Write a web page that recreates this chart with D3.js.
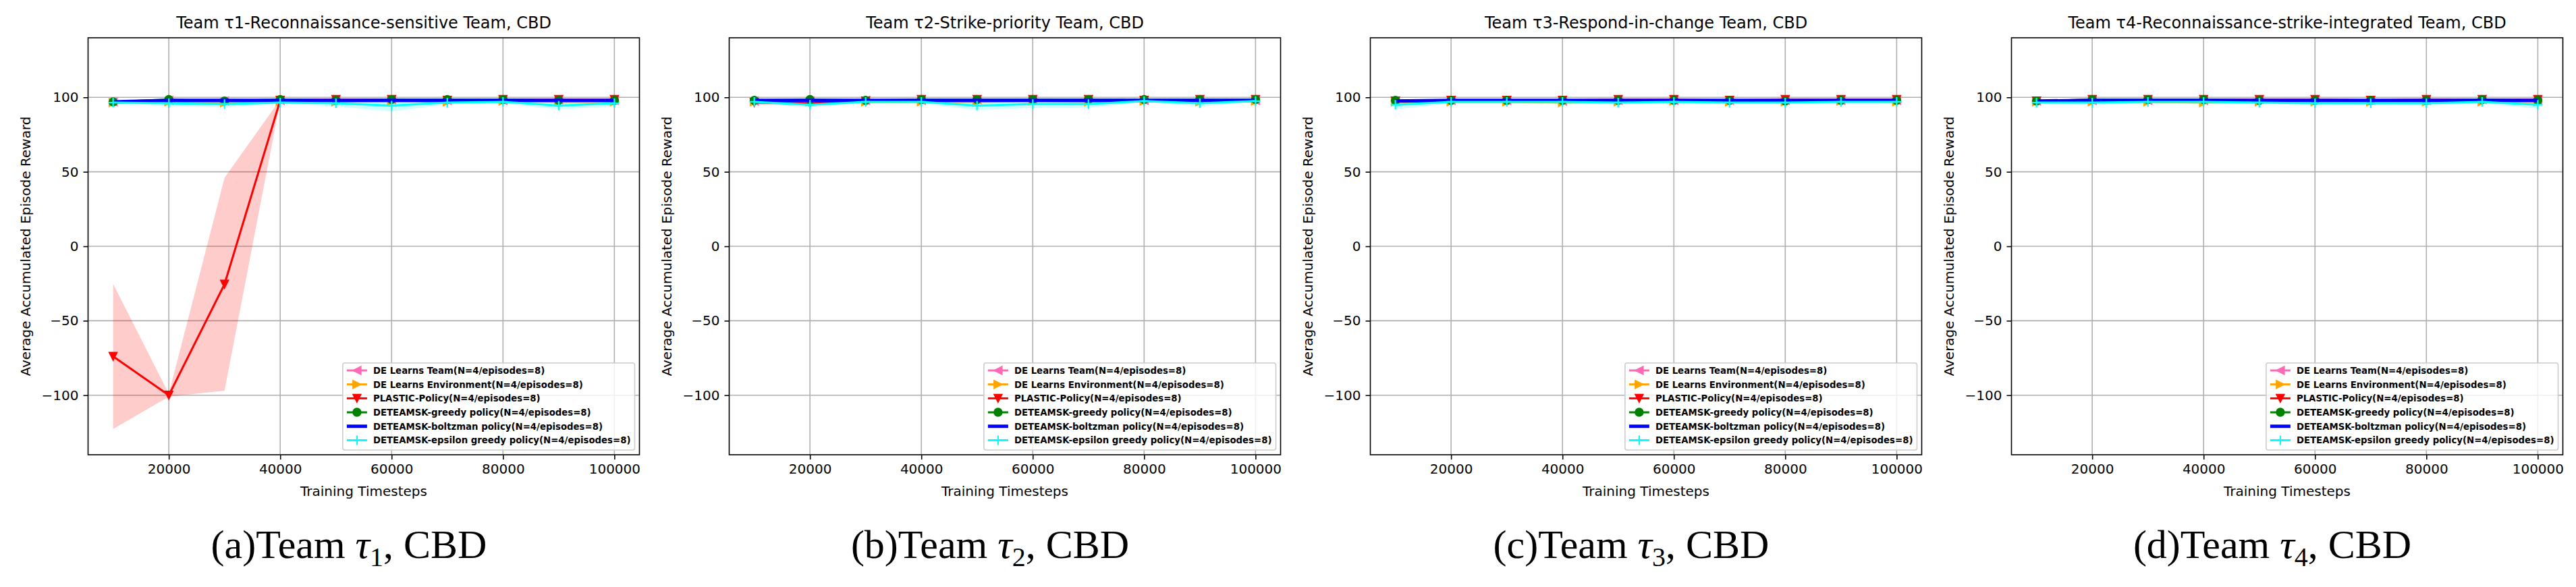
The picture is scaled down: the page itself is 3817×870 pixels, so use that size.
<!DOCTYPE html>
<html>
<head>
<meta charset="utf-8">
<script src="https://cdn.jsdelivr.net/npm/d3@7"></script>
<style>
  body { margin: 0; background: #fff; }
</style>
</head>
<body>
<svg id="fig" width="3817" height="870"></svg>
<script>
// x values and labels
const steps = [10000, 20000, 30000, 40000, 50000, 60000, 70000, 80000, 90000, 100000]
const xTicks = [20000, 40000, 60000, 80000, 100000]
const yTicks = [-100, -50, 0, 50, 100]

const seriesNames = [
  'DE Learns Team(N=4/episodes=8)',
  'DE Learns Environment(N=4/episodes=8)',
  'PLASTIC-Policy(N=4/episodes=8)',
  'DETEAMSK-greedy policy(N=4/episodes=8)',
  'DETEAMSK-boltzman policy(N=4/episodes=8)',
  'DETEAMSK-epsilon greedy policy(N=4/episodes=8)'
]
const seriesColors = ['#ff69b4', '#ffa500', '#ff0000', '#008000', '#0000ff', '#00ffff']
const seriesMarkers = ['<', '>', 'v', 'o', '', '+']
const seriesWidths = [3, 3, 3, 3, 5, 3]

const titles = [
  'Team \u03c41-Reconnaissance-sensitive Team, CBD',
  'Team \u03c42-Strike-priority Team, CBD',
  'Team \u03c43-Respond-in-change Team, CBD',
  'Team \u03c44-Reconnaissance-strike-integrated Team, CBD'
]
const captionLetters = ['a', 'b', 'c', 'd']
const captionIndex = ['1', '2', '3', '4']

// team 1 (rows follow seriesNames)
const t1Mean = [
  [97, 98, 97.5, 98, 98.5, 98.5, 98, 98, 98.5, 98],
  [96.5, 97, 96.5, 97, 97, 97.5, 97, 97.5, 97, 97],
  [-74, -100, -25.5, 98, 98.5, 98.5, 98, 98.5, 98.5, 98.5],
  [97, 98.5, 97.5, 98.5, 98, 98.5, 98.5, 98.5, 98, 98],
  [97, 98, 98, 98, 98, 98, 98, 98, 98, 98],
  [96.5, 96, 95.5, 96.5, 96, 94.5, 96.5, 97, 94.5, 96]
]
const t1Sd = [
  [0.8, 0.6, 0.8, 0.5, 0.5, 0.5, 0.6, 0.5, 0.5, 0.6],
  [0.8, 0.8, 0.8, 0.6, 0.8, 0.6, 0.8, 0.6, 0.8, 0.8],
  [48.7, 1, 71.5, 0.6, 0.5, 0.5, 0.6, 0.5, 0.5, 0.5],
  [0.8, 0.5, 0.6, 0.5, 0.5, 0.5, 0.5, 0.5, 0.5, 0.5],
  [0.6, 0.4, 0.4, 0.4, 0.4, 0.4, 0.4, 0.4, 0.4, 0.4],
  [1, 1.8, 2, 0.8, 2, 4, 1, 1, 2.5, 2]
]

// team 2
const t2Mean = [
  [97.5, 97.5, 98, 98, 98.5, 98.5, 98.5, 98, 98.5, 98],
  [97, 97, 97, 97, 97, 97.5, 97, 97.5, 97, 97.5],
  [96.5, 96, 97.5, 98.5, 98.5, 98.5, 98.5, 98, 98.5, 98.5],
  [98, 98.5, 98, 98.5, 98.5, 98.5, 98.5, 98.5, 98.5, 98.5],
  [98, 98, 98, 98, 98, 98, 98, 98, 98, 98],
  [97, 95, 97, 97, 94.5, 95.5, 95.5, 97.5, 96, 97.5]
]
const t2Sd = [
  [0.8, 0.6, 0.5, 0.5, 0.5, 0.5, 0.5, 0.6, 0.5, 0.5],
  [0.8, 0.8, 0.8, 0.8, 0.8, 0.6, 0.8, 0.6, 0.8, 0.6],
  [1.5, 1.2, 0.8, 0.5, 0.5, 0.5, 0.5, 0.6, 0.5, 0.5],
  [0.6, 0.5, 0.5, 0.5, 0.5, 0.5, 0.5, 0.5, 0.5, 0.5],
  [0.4, 0.4, 0.4, 0.4, 0.4, 0.4, 0.4, 0.4, 0.4, 0.4],
  [1, 1.5, 1, 1, 3, 2.5, 2.5, 0.6, 2, 0.6]
]

// team 3
const t3Mean = [
  [97.5, 98, 98, 97.5, 98, 98, 98, 98, 98, 98],
  [97, 97, 97, 96.5, 97, 97.5, 97, 97, 97.5, 97],
  [97.5, 98, 98, 98, 98.5, 98.5, 98, 98.5, 98.5, 98.5],
  [98, 98, 98, 98, 98, 98, 98, 97.5, 98, 98],
  [97.5, 98, 98, 98, 98, 98, 98, 98, 98, 98],
  [95, 97, 97, 97, 96.5, 97, 96.5, 96.5, 97, 97]
]
const t3Sd = [
  [0.8, 0.6, 0.6, 0.8, 0.6, 0.6, 0.6, 0.6, 0.6, 0.6],
  [0.8, 0.8, 0.8, 1, 0.8, 0.6, 0.8, 0.8, 0.6, 0.8],
  [0.8, 0.6, 0.6, 0.6, 0.5, 0.5, 0.6, 0.5, 0.5, 0.5],
  [0.6, 0.6, 0.6, 0.6, 0.6, 0.6, 0.6, 0.8, 0.6, 0.6],
  [0.4, 0.4, 0.4, 0.4, 0.4, 0.4, 0.4, 0.4, 0.4, 0.4],
  [3, 1, 1, 1, 1, 1, 0.6, 0.6, 1, 1]
]

// team 4
const t4Mean = [
  [97.5, 98, 98, 98, 98.5, 98.5, 98, 98, 98.5, 98],
  [97, 97, 97, 96.5, 97, 97, 97, 97, 97, 97],
  [97.5, 98.5, 98.5, 98.5, 98.5, 98.5, 98, 98.5, 98.5, 98.5],
  [97.5, 98.5, 98.5, 98.5, 98, 98, 98, 98, 98.5, 98],
  [97.5, 98, 98, 98, 98, 98, 98, 98, 98, 98],
  [96.5, 96.5, 97, 97, 96.5, 96, 96, 96, 97, 95]
]
const t4Sd = [
  [0.8, 0.6, 0.6, 0.6, 0.5, 0.5, 0.6, 0.6, 0.5, 0.6],
  [0.8, 0.8, 0.8, 1, 0.8, 0.8, 0.8, 0.8, 0.8, 0.8],
  [0.8, 0.5, 0.5, 0.5, 0.5, 0.5, 0.6, 0.5, 0.5, 0.5],
  [0.8, 0.5, 0.5, 0.5, 0.6, 0.6, 0.6, 0.6, 0.5, 0.6],
  [0.4, 0.4, 0.4, 0.4, 0.4, 0.4, 0.4, 0.4, 0.4, 0.4],
  [1, 1.5, 1, 1, 1, 1, 1, 1.5, 1, 2.5]
]

const teamMeans = [t1Mean, t2Mean, t3Mean, t4Mean]
const teamSds = [t1Sd, t2Sd, t3Sd, t4Sd]

const svg = d3.select('#fig')
svg.append('rect').attr('width', 3817).attr('height', 870).attr('fill', '#fff')

const panelW = 817
const plotTop = 56
const plotBottom = 674
const sans = 'DejaVu Sans, sans-serif'

const y = d3.scaleLinear().domain([-140, 140]).range([plotBottom, plotTop])

// marker paths, 12px like matplotlib at 2x
const markerPath = m => {
  if (m === 'v') return 'M-6,-6L6,-6L0,6Z'
  if (m === '<') return 'M6,-6L6,6L-6,0Z'
  if (m === '>') return 'M-6,-6L-6,6L6,0Z'
  if (m === 'o') return d3.symbol(d3.symbolCircle, Math.PI * 36)()
  if (m === '+') return 'M-7,0L7,0M0,-7L0,7'
  return null
}

const drawMarker = (g, m, color, cx, cy) => {
  const p = markerPath(m)
  if (!p) return
  const node = g.append('path')
    .attr('d', p)
    .attr('transform', `translate(${cx},${cy})`)
  if (m === '+') {
    node.attr('fill', 'none').attr('stroke', color).attr('stroke-width', 2.2)
  } else {
    node.attr('fill', color).attr('stroke', color).attr('stroke-width', 1.5)
  }
}

const drawPanel = (i) => {
  const left = 130.5 + i * 950
  const x = d3.scaleLinear().domain([5500, 104500]).range([left, left + panelW])
  const means = teamMeans[i]
  const sds = teamSds[i]
  const g = svg.append('g')

  // grid
  g.selectAll('.gx').data(xTicks).enter().append('line')
    .attr('x1', d => x(d)).attr('x2', d => x(d))
    .attr('y1', plotTop).attr('y2', plotBottom)
    .attr('stroke', '#b0b0b0').attr('stroke-width', 1.6)
  g.selectAll('.gy').data(yTicks).enter().append('line')
    .attr('x1', left).attr('x2', left + panelW)
    .attr('y1', d => y(d)).attr('y2', d => y(d))
    .attr('stroke', '#b0b0b0').attr('stroke-width', 1.6)

  const clip = 'clip' + i
  svg.append('clipPath').attr('id', clip).append('rect')
    .attr('x', left).attr('y', plotTop).attr('width', panelW).attr('height', plotBottom - plotTop)
  const plot = g.append('g').attr('clip-path', `url(#${clip})`)

  const area = d3.area()
    .x((d, k) => x(steps[k]))
    .y0(d => y(d[0] - d[1]))
    .y1(d => y(d[0] + d[1]))
  const line = d3.line().x((d, k) => x(steps[k])).y(d => y(d))

  means.forEach((row, s) => {
    const band = row.map((v, k) => [v, sds[s][k]])
    plot.append('path').attr('d', area(band))
      .attr('fill', seriesColors[s]).attr('fill-opacity', 0.2).attr('stroke', 'none')
  })
  means.forEach((row, s) => {
    plot.append('path').attr('d', line(row))
      .attr('fill', 'none').attr('stroke', seriesColors[s])
      .attr('stroke-width', seriesWidths[s]).attr('stroke-linejoin', 'round')
    row.forEach((v, k) => drawMarker(plot, seriesMarkers[s], seriesColors[s], x(steps[k]), y(v)))
  })

  // axes
  const xAxis = d3.axisBottom(x).tickValues(xTicks).tickFormat(d3.format('d')).tickSize(7).tickPadding(7)
  const yAxis = d3.axisLeft(y).tickValues(yTicks).tickSize(7).tickPadding(7)
  const ax = g.append('g').attr('transform', `translate(0,${plotBottom})`).call(xAxis)
  const ay = g.append('g').attr('transform', `translate(${left},0)`).call(yAxis)
  ;[ax, ay].forEach(a => {
    a.select('.domain').remove()
    a.selectAll('line').attr('stroke', '#000').attr('stroke-width', 1.6)
    a.selectAll('text').attr('font-family', sans).attr('font-size', 20).attr('fill', '#000')
  })
  g.append('rect').attr('x', left).attr('y', plotTop).attr('width', panelW).attr('height', plotBottom - plotTop)
    .attr('fill', 'none').attr('stroke', '#000').attr('stroke-width', 1.6)

  // title and labels
  g.append('text').attr('x', left + panelW / 2).attr('y', 41.5).attr('text-anchor', 'middle')
    .attr('font-family', sans).attr('font-size', 24).text(titles[i])
  g.append('text').attr('x', left + panelW / 2).attr('y', 735).attr('text-anchor', 'middle')
    .attr('font-family', sans).attr('font-size', 20).text('Training Timesteps')
  g.append('text').attr('transform', `translate(${left - 85.5},${(plotTop + plotBottom) / 2}) rotate(-90)`)
    .attr('text-anchor', 'middle').attr('font-family', sans).attr('font-size', 20)
    .text('Average Accumulated Episode Reward')

  // legend
  const lg = g.append('g')
  const rowH = 20.7
  const labels = lg.selectAll('.lt').data(seriesNames).enter().append('text')
    .attr('font-family', sans).attr('font-weight', 'bold').attr('font-size', 13.3)
    .attr('fill', '#000').text(d => d)
  let maxW = 0
  labels.each(function () { maxW = Math.max(maxW, this.getComputedTextLength()) })
  const boxW = maxW + 51
  const boxH = 129
  const bx = left + panelW - 7 - boxW
  const by = plotBottom - 7 - boxH
  lg.insert('rect', 'text').attr('x', bx).attr('y', by).attr('width', boxW).attr('height', boxH)
    .attr('rx', 3).attr('fill', '#fff').attr('fill-opacity', 0.8)
    .attr('stroke', '#cccccc').attr('stroke-width', 1.6)
  labels.attr('x', bx + 45).attr('y', (d, s) => by + 11 + s * rowH + 4.8)
  seriesNames.forEach((n, s) => {
    const cy = by + 11 + s * rowH
    lg.append('line').attr('x1', bx + 6).attr('x2', bx + 36).attr('y1', cy).attr('y2', cy)
      .attr('stroke', seriesColors[s]).attr('stroke-width', seriesWidths[s])
    drawMarker(lg, seriesMarkers[s], seriesColors[s], bx + 21, cy)
  })

  // caption below panel
  const cap = svg.append('text').attr('x', left + panelW / 2 - 22).attr('y', 827)
    .attr('text-anchor', 'middle').attr('font-family', 'Liberation Serif, Times New Roman, serif')
    .attr('font-size', 60).attr('fill', '#000')
  cap.append('tspan').text(`(${captionLetters[i]})Team `)
  cap.append('tspan').attr('font-style', 'italic').text('\u03c4')
  cap.append('tspan').attr('font-size', 40).attr('dy', 12).text(captionIndex[i])
  cap.append('tspan').attr('dy', -12).text(', CBD')
}

for (let i = 0; i < 4; i++) drawPanel(i)
</script>
</body>
</html>
